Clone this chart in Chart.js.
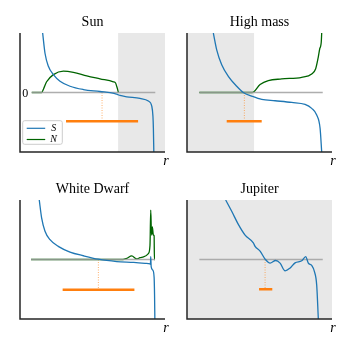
<!DOCTYPE html>
<html>
<head>
<meta charset="utf-8">
<script src="https://cdn.jsdelivr.net/npm/chart.js@4"></script>
<style>
  body { margin: 0; background: #fff; }
  canvas { position: absolute; }
</style>
</head>
<body>
<canvas id="sun" width="175" height="175" style="left:0;top:0"></canvas>
<canvas id="high" width="175" height="175" style="left:175px;top:0"></canvas>
<canvas id="wd" width="175" height="175" style="left:0;top:175px"></canvas>
<canvas id="jup" width="175" height="175" style="left:175px;top:175px"></canvas>
<script>
// Sun
const sunSx = [0.154, 0.170, 0.193, 0.227, 0.272, 0.340, 0.431, 0.544, 0.640, 0.665, 0.680, 0.726, 0.816, 0.873, 0.896, 0.904, 0.907, 0.910];
const sunSy = [1.0, 0.66, 0.44, 0.30, 0.19, 0.105, 0.05, 0.017, -0.015, -0.035, -0.05, -0.072, -0.1, -0.144, -0.228, -0.4, -0.6, -1.0];
const sunNx = [0.08, 0.147, 0.16, 0.181, 0.227, 0.295, 0.363, 0.454, 0.544, 0.635, 0.65, 0.658, 0.665, 0.669];
const sunNy = [0, 0, 0.06, 0.18, 0.30, 0.36, 0.34, 0.28, 0.23, 0.18, 0.16, 0.10, 0.04, 0];
const sunZero = [0.08, 0.92];
const sunBar = [0.313, 0.803, -0.483];
const sunDot = 0.558;
const sunShade = [0.667, 0.986];

// High mass
const hiSx = [0.179, 0.202, 0.236, 0.281, 0.338, 0.383, 0.44, 0.508, 0.599, 0.712, 0.803, 0.848, 0.882, 0.905, 0.916];
const hiSy = [1.0, 0.717, 0.467, 0.272, 0.105, 0, -0.061, -0.117, -0.139, -0.167, -0.2, -0.267, -0.378, -0.6, -1.0];
const hiNx = [0.084, 0.445, 0.497, 0.553, 0.644, 0.780, 0.848, 0.875, 0.893, 0.903, 0.908, 0.913, 0.916];
const hiNy = [0, 0, 0.133, 0.2, 0.228, 0.256, 0.31, 0.4, 0.6, 0.74, 0.77, 0.85, 1.0];
const hiZero = [0.084, 0.923];
const hiBar = [0.27, 0.508, -0.483];
const hiDot = 0.39;
const hiShade = [0, 0.456];

// White Dwarf
const wdSx = [0.131, 0.147, 0.17, 0.204, 0.26, 0.34, 0.431, 0.533, 0.658, 0.773, 0.85, 0.884, 0.887, 0.889, 0.892, 0.903, 0.912, 0.915, 0.917];
const wdSy = [1.0, 0.70, 0.475, 0.334, 0.22, 0.125, 0.063, 0.005, -0.034, -0.05, -0.065, -0.075, -0.08, 0.05, -0.12, -0.18, -0.3, -0.6, -1.0];
const wdNx = [0.075, 0.70, 0.726, 0.76, 0.794, 0.816, 0.84, 0.873, 0.884, 0.889, 0.893, 0.896, 0.9, 0.907, 0.912, 0.914, 0.918];
const wdNy = [0, 0, 0.02, 0.06, 0.01, 0.03, 0.045, 0.10, 0.24, 0.83, 0.5, 0.41, 0.55, 0.41, 0.40, 0, 0];
const wdZero = [0.075, 0.918];
const wdBar = [0.29, 0.778, -0.508];
const wdDot = 0.533;

// Jupiter
const juSx = [0.263, 0.304, 0.349, 0.395, 0.451, 0.463, 0.497, 0.531, 0.565, 0.603, 0.633, 0.667, 0.70, 0.735, 0.780, 0.807, 0.825, 0.848, 0.866, 0.882, 0.893];
const juSy = [1.0, 0.81, 0.59, 0.41, 0.28, 0.22, 0.14, 0.007, -0.061, -0.017, -0.061, -0.19, -0.146, -0.056, -0.022, 0.05, -0.06, -0.10, -0.2, -0.43, -1.0];
const juZero = [0.084, 0.923];
const juBar = [0.49, 0.58, -0.5];
const juDot = 0.531;
const juShade = [0, 0.986];

const legendLabels = ['S', 'N'];
const blue = '#1f77b4', green = '#006400', orange = '#ff7f0e';

function pts(xs, ys) {
    return xs.map((x, i) => ({ x: x, y: ys[i] }));
}

const decor = {
    id: 'decor',
    beforeDatasetsDraw(chart, args, opts) {
        const { ctx, chartArea: a, scales: { x } } = chart;
        if (opts.shade) {
            const x0 = Math.max(a.left, x.getPixelForValue(opts.shade[0]));
            const x1 = Math.min(a.right, x.getPixelForValue(opts.shade[1]));
            ctx.save();
            ctx.fillStyle = '#e8e8e8';
            ctx.fillRect(x0, a.top, x1 - x0, a.bottom - a.top);
            ctx.restore();
        }
    },
    afterDraw(chart, args, opts) {
        const { ctx, chartArea: a, scales: { y } } = chart;
        ctx.save();
        // spines
        ctx.strokeStyle = '#262626';
        ctx.lineWidth = 1.5;
        ctx.beginPath();
        ctx.moveTo(a.left, a.top);
        ctx.lineTo(a.left, a.bottom);
        ctx.lineTo(a.right, a.bottom);
        ctx.stroke();
        // title
        ctx.fillStyle = '#000';
        ctx.font = '14px "Liberation Serif"';
        ctx.textAlign = 'center';
        ctx.textBaseline = 'alphabetic';
        ctx.fillText(opts.title, (a.left + a.right) / 2, a.top - 7);
        // r label
        ctx.font = 'italic 14px "Liberation Serif"';
        ctx.fillText('r', a.right + 1, a.bottom + 13);
        if (opts.zeroLabel) {
            ctx.font = '12px "Liberation Serif"';
            ctx.textBaseline = 'middle';
            ctx.fillText('0', a.left + 5.3, y.getPixelForValue(0) + 1);
        }
        if (opts.legend) {
            const bx = a.left + 2.7, by = a.bottom - 31.3;
            ctx.fillStyle = 'rgba(255,255,255,0.85)';
            ctx.strokeStyle = '#cccccc';
            ctx.lineWidth = 1;
            ctx.beginPath();
            ctx.roundRect(bx, by, 39.6, 23.6, 2);
            ctx.fill();
            ctx.stroke();
            const cols = [blue, green];
            legendLabels.forEach((lab, i) => {
                const ly = by + 7.6 + i * 11.2;
                ctx.strokeStyle = cols[i];
                ctx.lineWidth = 1.2;
                ctx.beginPath();
                ctx.moveTo(bx + 4, ly);
                ctx.lineTo(bx + 22.5, ly);
                ctx.stroke();
                ctx.fillStyle = '#000';
                ctx.font = 'italic 10px "Liberation Serif"';
                ctx.textAlign = 'center';
                ctx.textBaseline = 'middle';
                ctx.fillText(lab, bx + 31, ly);
            });
        }
        ctx.restore();
    }
};

function makePanel(id, p) {
    const datasets = [
        { data: [{ x: p.bar[0], y: p.bar[2] }, { x: p.bar[1], y: p.bar[2] }], borderColor: orange, borderWidth: 2.5 },
        { data: pts(p.sx, p.sy), borderColor: blue, borderWidth: 1.3, cubicInterpolationMode: 'monotone' },
        { data: [{ x: p.zero[0], y: 0 }, { x: p.zero[1], y: 0 }], borderColor: 'rgba(160,160,160,0.85)', borderWidth: 1.5 }
    ];
    if (p.nx) {
        datasets.push({ data: pts(p.nx, p.ny), borderColor: green, borderWidth: 1.3, cubicInterpolationMode: 'monotone' });
    }
    datasets.push({ data: [{ x: p.dot, y: 0 }, { x: p.dot, y: p.bar[2] }], borderColor: 'rgba(255,127,14,0.6)', borderWidth: 1, borderDash: [1, 1.5] });

    new Chart(document.getElementById(id), {
        type: 'line',
        data: { datasets: datasets },
        options: {
            responsive: false,
            animation: false,
            events: [],
            layout: { padding: p.pad },
            elements: { point: { radius: 0 }, line: { fill: false } },
            scales: {
                x: { type: 'linear', min: 0, max: 0.986, display: false },
                y: { min: -1, max: 1, display: false }
            },
            plugins: {
                legend: { display: false },
                tooltip: { enabled: false },
                decor: { title: p.title, shade: p.shade, legend: p.legend, zeroLabel: p.zeroLabel }
            }
        },
        plugins: [decor]
    });
}

makePanel('sun', { title: 'Sun', sx: sunSx, sy: sunSy, nx: sunNx, ny: sunNy, zero: sunZero, bar: sunBar, dot: sunDot, shade: sunShade, legend: true, zeroLabel: true,
    pad: { left: 20, top: 33, right: 10, bottom: 23 } });
makePanel('high', { title: 'High mass', sx: hiSx, sy: hiSy, nx: hiNx, ny: hiNy, zero: hiZero, bar: hiBar, dot: hiDot, shade: hiShade,
    pad: { left: 12, top: 33, right: 18, bottom: 23 } });
makePanel('wd', { title: 'White Dwarf', sx: wdSx, sy: wdSy, nx: wdNx, ny: wdNy, zero: wdZero, bar: wdBar, dot: wdDot,
    pad: { left: 20, top: 25, right: 10, bottom: 31 } });
makePanel('jup', { title: 'Jupiter', sx: juSx, sy: juSy, zero: juZero, bar: juBar, dot: juDot, shade: juShade,
    pad: { left: 12, top: 25, right: 18, bottom: 31 } });
</script>
</body>
</html>
